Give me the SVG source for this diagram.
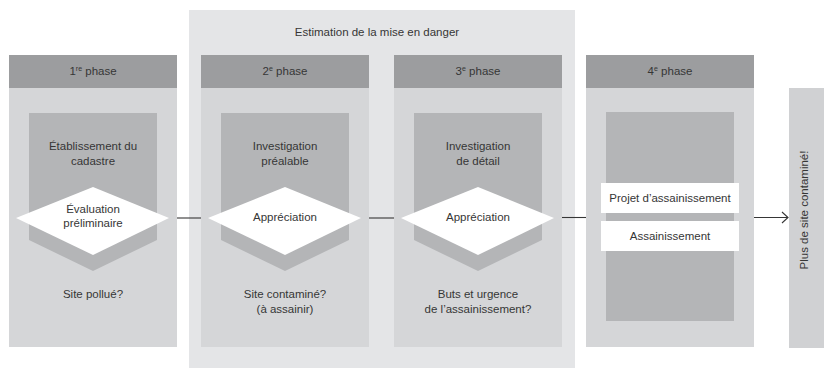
<svg xmlns="http://www.w3.org/2000/svg" width="824" height="368" viewBox="0 0 824 368">
<style>
text{font-family:"Liberation Sans",Arial,sans-serif;font-size:11.5px;fill:#363636;text-anchor:middle}
.col{fill:#d5d6d8}
.hdr{fill:#9c9d9f}
.inner{fill:#b4b5b7}
.dia{fill:#ffffff}
.wbox{fill:#ffffff}
.conn{stroke:#363636;stroke-width:1.1;fill:none}
</style>
<defs>
<marker id="arr" markerWidth="10" markerHeight="14" refX="8" refY="7" orient="auto" markerUnits="userSpaceOnUse">
<path d="M2,1.5 L8,7 L2,12.5" fill="none" stroke="#363636" stroke-width="1.1"/>
</marker>
</defs>
<rect width="824" height="368" fill="#ffffff"/>

<g id="estimation">
<rect x="189" y="10" width="386" height="358" fill="#e4e5e7"/>
<text x="377" y="36">Estimation de la mise en danger</text>
</g>

<g id="phase1">
<rect class="col" x="9" y="55" width="168" height="292"/>
<rect class="hdr" x="9" y="55" width="168" height="33"/>
<text x="93" y="75">1<tspan font-size="7" dy="-4">re</tspan><tspan dy="4"> phase</tspan></text>
<polygon class="inner" points="29,113 157,113 157,240 93,271 29,240"/>
<text x="93" y="150">Établissement du</text>
<text x="93" y="165">cadastre</text>
<polygon class="dia" points="16,218 93,187 169,218 93,255"/>
<text x="93" y="213">Évaluation</text>
<text x="93" y="227">préliminaire</text>
<text x="93" y="298">Site pollué?</text>
</g>

<g id="phase2">
<rect class="col" x="201" y="55" width="168" height="292"/>
<rect class="hdr" x="201" y="55" width="168" height="33"/>
<text x="285" y="75">2<tspan font-size="7" dy="-4">e</tspan><tspan dy="4"> phase</tspan></text>
<polygon class="inner" points="221,113 349,113 349,240 285,271 221,240"/>
<text x="285" y="150">Investigation</text>
<text x="285" y="165">préalable</text>
<polygon class="dia" points="208,218 285,187 361,218 285,255"/>
<text x="285" y="221">Appréciation</text>
<text x="285" y="298">Site contaminé?</text>
<text x="285" y="313">(à assainir)</text>
</g>

<g id="phase3">
<rect class="col" x="394" y="55" width="168" height="292"/>
<rect class="hdr" x="394" y="55" width="168" height="33"/>
<text x="478" y="75">3<tspan font-size="7" dy="-4">e</tspan><tspan dy="4"> phase</tspan></text>
<polygon class="inner" points="414,113 542,113 542,240 478,271 414,240"/>
<text x="478" y="150">Investigation</text>
<text x="478" y="165">de détail</text>
<polygon class="dia" points="401,218 478,187 554,218 478,255"/>
<text x="478" y="221">Appréciation</text>
<text x="478" y="298">Buts et urgence</text>
<text x="478" y="313">de l’assainissement?</text>
</g>

<g id="phase4">
<rect class="col" x="586" y="55" width="168" height="292"/>
<rect class="hdr" x="586" y="55" width="168" height="33"/>
<text x="670" y="75">4<tspan font-size="7" dy="-4">e</tspan><tspan dy="4"> phase</tspan></text>
<rect class="inner" x="606" y="112" width="128" height="209"/>
<rect class="wbox" x="601" y="183" width="138" height="30"/>
<text x="670" y="202">Projet d’assainissement</text>
<rect class="wbox" x="601" y="221" width="138" height="30"/>
<text x="670" y="240">Assainissement</text>
</g>

<g id="result">
<rect x="789" y="88" width="35" height="260" fill="#d0d1d3"/>
<text transform="translate(807.5,210) rotate(-90)" font-size="12.5">Plus de site contaminé!</text>
</g>

<g id="connectors">
<line class="conn" x1="177" y1="218" x2="201" y2="218"/>
<line class="conn" x1="369" y1="218" x2="394" y2="218"/>
<line class="conn" x1="562" y1="217.5" x2="586" y2="217.5"/>
<line class="conn" x1="754" y1="217.5" x2="788" y2="217.5" marker-end="url(#arr)"/>
</g>
</svg>
